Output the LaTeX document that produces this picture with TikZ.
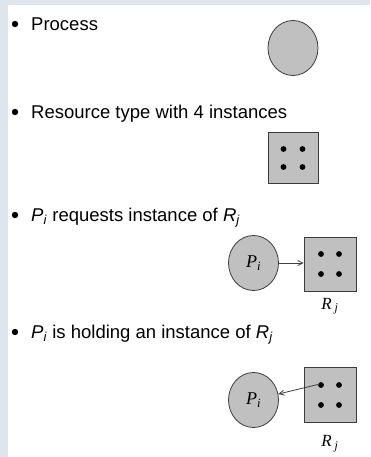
\documentclass[tikz,border=0pt]{standalone}
\usepackage{fontspec}
\setmainfont{Liberation Sans}
\newfontfamily\figfont{Liberation Serif}
\usetikzlibrary{arrows.meta,calc,shapes.geometric,positioning}
\definecolor{nodegray}{HTML}{C0C0C0}
\definecolor{edgegray}{HTML}{3C3C3C}
\definecolor{bandblue}{HTML}{DFE5EC}
\newcommand{\Pidx}{\textit{P}\textsubscript{\textit{i}}}
\newcommand{\Ridx}{\textit{R}\textsubscript{\textit{j}}}
\newcommand{\Rlab}{\textit{R}\,\textsubscript{\textit{j}}}

\begin{document}
\begin{tikzpicture}[
  x=1pt, y=-1pt,
  item/.style={anchor=base west, inner sep=0pt,
    font=\fontsize{18.5}{22}\selectfont},
  proc/.style={ellipse, draw=edgegray, fill=nodegray, line width=0.8pt,
    minimum width=50pt, minimum height=55pt, inner sep=0pt,
    font=\figfont\fontsize{18}{20}\selectfont},
  res/.style={rectangle, draw=edgegray, fill=nodegray, line width=0.9pt,
    minimum width=50pt, minimum height=51pt, inner sep=0pt},
  instdot/.style={fill=black},
  edge/.style={-{Straight Barb[length=5pt,width=5pt]}, line width=0.8pt,
    draw=black!75},
  rlabel/.style={font=\figfont\fontsize{17}{19}\selectfont},
]
  \useasboundingbox (0,0) rectangle (370,457);
  % Background
  \fill[white] (0,0) rectangle (370,457);
  \fill[bandblue] (0,0) rectangle (370,5);
  \fill[bandblue] (0,0) rectangle (8,457);
  % Bullets
  \foreach \y in {24,112,215,332}
    \fill (15,\y) circle (3.2);
  \node[item] (t1) at (31,30.5) {Process};
  \node[item] (t2) at (31,118.5) {Resource type with 4 instances};
  \node[item] (t3) at (31,221.5) {\Pidx{} requests instance of \Ridx};
  \node[item] (t4) at (31,338.5) {\Pidx{} is holding an instance of \Ridx};
  % Process
  \node[proc] (A) at (293,48) {};
  % Resource type
  \node[res] (B) at (293,158) {};
  \foreach \dx in {-9.5,9.5}
    \foreach \dy in {-9,9}
      \fill[instdot] ($(B.center)+(\dx,\dy)$) circle (2.9);
  % Request edge
  \node[proc] (C) at (253.5,263) {\Pidx};
  \node[res, minimum width=52pt, minimum height=54pt] (D) at (330,264) {};
  \foreach \dx in {-9,9}
    \foreach \dy in {-10,10}
      \fill[instdot] ($(D.center)+(\dx,\dy)$) circle (2.9);
  \node[rlabel, below=3pt of D] (Dl) {\Rlab};
  \draw[edge] (C.east) -- (C.east -| D.west);
  % Assignment edge
  \node[proc] (E) at (253.5,400) {\Pidx};
  \node[res, minimum width=52pt, minimum height=55pt] (F) at (330,395) {};
  \foreach \dx in {-9,9}
    \foreach \dy in {-10,10}
      \fill[instdot] ($(F.center)+(\dx,\dy)$) circle (2.9);
  \coordinate (F1) at ($(F.center)+(-10,-11)$);
  \node[rlabel, below=9pt of F] (Fl) {\Rlab};
  \draw[edge] (F1) -- (E);
\end{tikzpicture}
\end{document}
